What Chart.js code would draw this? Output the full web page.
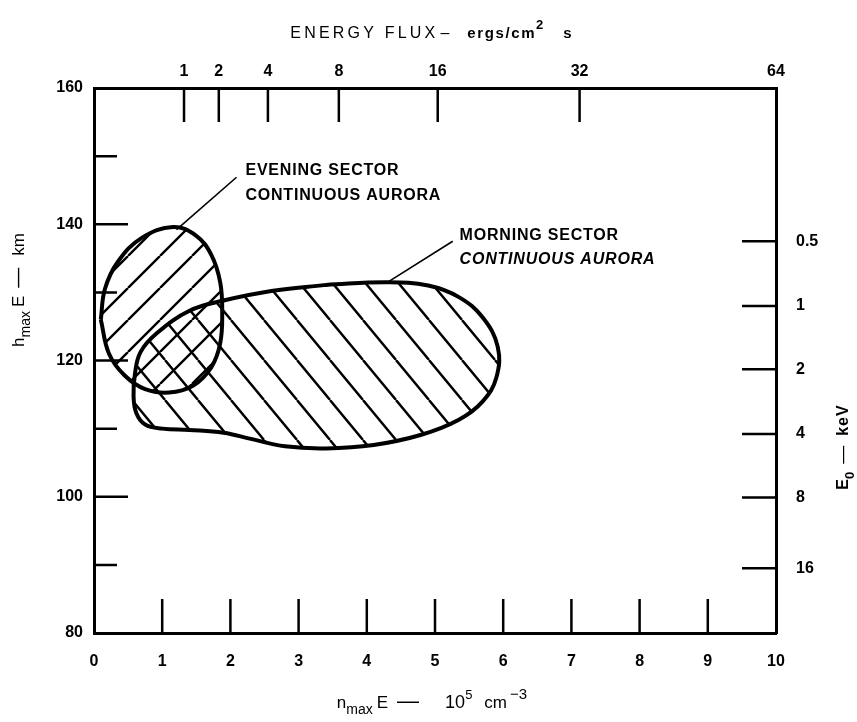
<!DOCTYPE html>
<html>
<head>
<meta charset="utf-8">
<title>Continuous aurora – E region peak</title>
<script src="https://cdn.jsdelivr.net/npm/chart.js@4.4.1/dist/chart.umd.min.js"></script>
<style>
  html, body { margin: 0; padding: 0; background: #fff; }
  #chart { display: block; }
</style>
</head>
<body>
<canvas id="chart" width="857" height="722"></canvas>
<script>
// ---------- Data ----------
// bottom axis: n_max E in 1e5 cm^-3, left axis: h_max E in km
const xTicks = [0, 1, 2, 3, 4, 5, 6, 7, 8, 9, 10];
const yTicks = [80, 90, 100, 110, 120, 130, 140, 150, 160];
const yLabelled = [80, 100, 120, 140, 160];

// top axis: energy flux (ergs/cm2 s), placed at these n_max E values
const fluxLabels = ['1', '2', '4', '8', '16', '32', '64'];
const fluxAt = [1.32, 1.83, 2.55, 3.59, 5.04, 7.12, 10];

// right axis: E0 (keV), placed at these heights (km)
const energyLabels = ['0.5', '1', '2', '4', '8', '16'];
const energyAt = [137.5, 128.0, 118.7, 109.2, 99.9, 89.5];

// evening sector continuous aurora (outline, starts on the left edge)
const eveningX = [0.10, 0.16, 0.35, 0.70, 1.16, 1.50, 1.72, 1.85, 1.88, 1.85, 1.72, 1.45, 1.10, 0.75, 0.45, 0.22, 0.10];
const eveningY = [126.0, 130.5, 134.5, 138.0, 139.6, 138.3, 135.5, 131.5, 127.0, 122.5, 119.0, 116.3, 115.3, 115.8, 117.8, 121.0, 126.0];

// morning sector continuous aurora (outline, starts on the top edge)
const morningX = [3.40, 4.30, 4.90, 5.35, 5.70, 5.92, 5.90, 5.70, 5.35, 4.80, 4.10, 3.40, 2.80, 2.30, 1.90, 1.40, 1.00, 0.75, 0.62, 0.58, 0.60, 0.68, 0.92, 1.40, 1.90, 2.60, 3.40];
const morningY = [131.1, 131.5, 131.0, 129.3, 126.3, 122.0, 117.5, 114.0, 111.3, 109.1, 107.6, 107.1, 107.4, 108.5, 109.4, 109.8, 110.0, 110.6, 112.3, 114.8, 118.0, 121.2, 124.0, 127.3, 128.8, 130.2, 131.1];

// labels with leader lines (anchors in data units)
const eveningText = ['EVENING SECTOR', 'CONTINUOUS AURORA'];
const eveningTextAt = { x: 2.22, y: [147.2, 143.6] };
const eveningLeader = { x: [2.09, 1.21], y: [146.9, 139.2] };
const morningText = ['MORNING SECTOR', 'CONTINUOUS AURORA'];
const morningTextAt = { x: 5.36, y: [137.7, 134.1] };
const morningLeader = { x: [5.26, 4.29], y: [137.5, 131.4] };

// ---------- Helpers ----------
const FONT = '"Liberation Sans", Arial, Helvetica, sans-serif';
const toPoints = (xs, ys) => xs.map((x, i) => ({ x, y: ys[i] }));

// diagonal hatch tile; dir > 0 gives '/', dir < 0 gives '\'
function hatch(w, h, dir) {
  const c = document.createElement('canvas');
  c.width = w; c.height = h;
  const g = c.getContext('2d');
  g.strokeStyle = '#000';
  g.lineWidth = 2.4;
  g.beginPath();
  for (let k = -1; k <= 1; k++) {
    if (dir > 0) { g.moveTo(k * w, h); g.lineTo(k * w + w, 0); }
    else { g.moveTo(k * w, 0); g.lineTo(k * w + w, h); }
  }
  g.stroke();
  return g.createPattern(c, 'repeat');
}

// text made of pieces (sub/superscripts, gaps), centred on (x, y) baseline
function richText(ctx, parts, x, y, rot) {
  ctx.save();
  ctx.translate(x, y);
  ctx.rotate(rot);
  ctx.fillStyle = '#000';
  ctx.textAlign = 'left';
  ctx.textBaseline = 'alphabetic';
  const setFont = p => {
    ctx.font = `${p.w || 'normal'} ${p.s}px ${FONT}`;
    ctx.letterSpacing = (p.ls || 0) + 'px';
  };
  const widths = parts.map(p => { setFont(p); return ctx.measureText(p.t).width + (p.g || 0); });
  let cx = -widths.reduce((a, b) => a + b, 0) / 2;
  parts.forEach((p, i) => {
    setFont(p);
    ctx.fillText(p.t, cx, p.dy || 0);
    cx += widths[i];
  });
  ctx.restore();
}

// ---------- Plugin: inward tick marks, titles, annotations ----------
const decorations = {
  id: 'decorations',
  afterDatasetsDraw(chart) {
    const { ctx, chartArea: a, scales } = chart;
    const seg = (x1, y1, x2, y2) => { ctx.moveTo(x1, y1); ctx.lineTo(x2, y2); };

    ctx.save();
    ctx.strokeStyle = '#000';
    ctx.lineWidth = 2.5;
    ctx.beginPath();
    xTicks.slice(1, -1).forEach(v => {
      const px = scales.x.getPixelForValue(v);
      seg(px, a.bottom, px, a.bottom - 34);
    });
    fluxAt.slice(0, -1).forEach(v => {
      const px = scales.xTop.getPixelForValue(v);
      seg(px, a.top, px, a.top + 34);
    });
    yTicks.slice(1, -1).forEach(v => {
      const py = scales.y.getPixelForValue(v);
      seg(a.left, py, a.left + (yLabelled.includes(v) ? 34 : 23), py);
    });
    energyAt.forEach(v => {
      const py = scales.yE.getPixelForValue(v);
      seg(a.right, py, a.right - 34, py);
    });
    ctx.stroke();

    // leader lines
    ctx.lineWidth = 1.6;
    ctx.beginPath();
    [eveningLeader, morningLeader].forEach(l => {
      seg(scales.x.getPixelForValue(l.x[0]), scales.y.getPixelForValue(l.y[0]),
          scales.x.getPixelForValue(l.x[1]), scales.y.getPixelForValue(l.y[1]));
    });
    ctx.stroke();

    // annotation text
    ctx.fillStyle = '#000';
    ctx.textAlign = 'left';
    ctx.textBaseline = 'alphabetic';
    ctx.letterSpacing = '0.8px';
    ctx.font = `bold 16px ${FONT}`;
    eveningText.forEach((t, i) => {
      ctx.fillText(t, scales.x.getPixelForValue(eveningTextAt.x), scales.y.getPixelForValue(eveningTextAt.y[i]));
    });
    ctx.fillText(morningText[0], scales.x.getPixelForValue(morningTextAt.x), scales.y.getPixelForValue(morningTextAt.y[0]));
    ctx.font = `italic bold 16px ${FONT}`;
    ctx.fillText(morningText[1], scales.x.getPixelForValue(morningTextAt.x), scales.y.getPixelForValue(morningTextAt.y[1]));
    ctx.restore();

    // axis titles
    richText(ctx, [
      { t: 'ENERGY FLUX', s: 16, ls: 3.2, g: 2 },
      { t: '\u2013', s: 16, g: 18 },
      { t: 'ergs/cm', s: 15, w: 'bold', ls: 1.6 },
      { t: '2', s: 13, w: 'bold', dy: -9, g: 20 },
      { t: 's', s: 15, w: 'bold' }
    ], 431, 38, 0);
    richText(ctx, [
      { t: 'n', s: 17 },
      { t: 'max', s: 14, dy: 6, g: 4 },
      { t: 'E', s: 17, g: 9 },
      { t: '\u2014', s: 22, g: 26 },
      { t: '10', s: 18 },
      { t: '5', s: 13, dy: -9, g: 12 },
      { t: 'cm', s: 17, g: 3 },
      { t: '\u22123', s: 15, dy: -9 }
    ], 432, 708, 0);
    richText(ctx, [
      { t: 'h', s: 17 },
      { t: 'max', s: 14, dy: 6, g: 4 },
      { t: 'E', s: 17, g: 8 },
      { t: '\u2014', s: 20, g: 12 },
      { t: 'km', s: 17 }
    ], 24, 290, -Math.PI / 2);
    richText(ctx, [
      { t: 'E', s: 16, w: 'bold' },
      { t: '0', s: 13, w: 'bold', dy: 6, g: 8 },
      { t: '\u2014', s: 18, g: 10 },
      { t: 'keV', s: 16, w: 'bold', ls: 1 }
    ], 848, 447, -Math.PI / 2);
  }
};

// ---------- Chart ----------
const tickFont = { family: FONT, size: 16, weight: 'bold' };
const border = { display: true, color: '#000', width: 3 };
const noGrid = { display: false, drawTicks: false };

new Chart(document.getElementById('chart'), {
  type: 'scatter',
  data: {
    datasets: [
      {
        label: 'Evening sector continuous aurora',
        data: toPoints(eveningX, eveningY),
        showLine: true,
        fill: 'shape',
        backgroundColor: hatch(32, 32, 1),
        borderColor: '#000',
        borderWidth: 4,
        tension: 0.4,
        pointRadius: 0
      },
      {
        label: 'Morning sector continuous aurora',
        data: toPoints(morningX, morningY),
        showLine: true,
        fill: 'shape',
        backgroundColor: hatch(33, 40, -1),
        borderColor: '#000',
        borderWidth: 4,
        tension: 0.4,
        pointRadius: 0
      }
    ]
  },
  options: {
    responsive: false,
    animation: false,
    devicePixelRatio: 1,
    layout: { padding: 0 },
    plugins: { legend: { display: false }, tooltip: { enabled: false } },
    scales: {
      x: {
        type: 'linear', position: 'bottom', min: 0, max: 10,
        afterBuildTicks: s => { s.ticks = xTicks.map(v => ({ value: v })); },
        afterFit: s => { s.height = 89; },
        ticks: { font: tickFont, color: '#000', padding: 19, maxRotation: 0, autoSkip: false },
        grid: noGrid, border
      },
      xTop: {
        axis: 'x', type: 'linear', position: 'top', min: 0, max: 10,
        afterBuildTicks: s => { s.ticks = fluxAt.map(v => ({ value: v })); },
        afterFit: s => { s.height = 88; },
        ticks: { font: tickFont, color: '#000', padding: 7, maxRotation: 0, autoSkip: false,
                 callback: (v, i) => fluxLabels[i] },
        grid: noGrid, border
      },
      y: {
        type: 'linear', position: 'left', min: 80, max: 160,
        afterBuildTicks: s => { s.ticks = yTicks.map(v => ({ value: v })); },
        afterFit: s => { s.width = 94; },
        ticks: { font: tickFont, color: '#000', padding: 11, autoSkip: false,
                 callback: v => (yLabelled.includes(v) ? String(v) : '') },
        grid: noGrid, border
      },
      yE: {
        axis: 'y', type: 'linear', position: 'right', min: 80, max: 160,
        afterBuildTicks: s => { s.ticks = energyAt.map(v => ({ value: v })); },
        afterFit: s => { s.width = 81; },
        ticks: { font: tickFont, color: '#000', padding: 20, autoSkip: false,
                 callback: (v, i) => energyLabels[i] },
        grid: noGrid, border
      }
    }
  },
  plugins: [decorations]
});
</script>
</body>
</html>
